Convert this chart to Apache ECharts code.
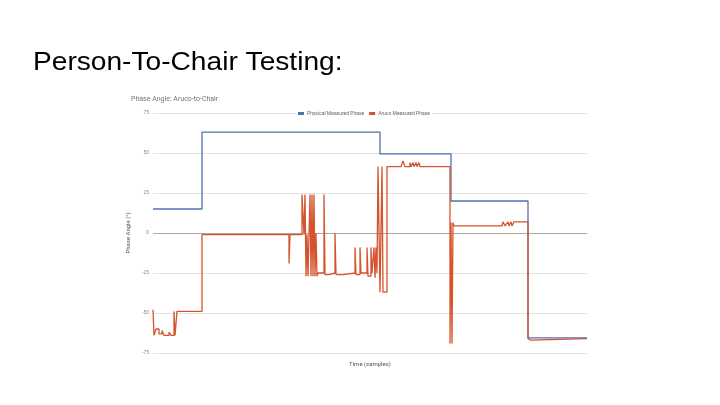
<!DOCTYPE html>
<html>
<head>
<meta charset="utf-8">
<script src="https://cdn.jsdelivr.net/npm/echarts@6/dist/echarts.min.js"></script>
<style>
html,body{margin:0;padding:0;background:#fff;}
#c{width:720px;height:405px;}
</style>
</head>
<body>
<div id="c"></div>
<script>
var yTicks = [-75, -50, -25, 0, 25, 50, 75];
var seriesNames = ['Physical Measured Phase', 'Aruco Measured Phase'];

var blueX = [0, 49, 49, 227, 227, 298, 298, 375, 375, 434];
var blueY = [15, 15, 63, 63, 49.4, 49.4, 20, 20, -65.5, -65.5];

var redX = [0,1,1,3,3,6,6,9,9,11,11,16,16,18,18,21,21,22,22,24,24,49,49,136,136,137,137,149,149,151,151,152,152,153,153,154,154,155,155,157,157,158,158,159,159,160,160,161,161,162,162,163,163,164,164,165,165,171,171,172,172,176,176,182,182,183,183,190,190,202,202,203,203,207,207,208,208,214,214,215,215,218,218,219,219,221,221,222,222,223,223,224,224,225,225,227,227,229,229,230,230,234,234,248,250,252,257,257,258,260,261,263,264,266,267,297,297,298,298,299,299,300,300,301,349,350,352,355,356,358,359,361,364,375,375,377,378,380,434];
var redY = [-48,-48,-64,-64,-60,-60,-63,-63,-61,-61,-64,-64,-62,-62,-64,-64,-49,-49,-64,-64,-49,-49,-1,-1,-19,-19,-1,-1,24,24,-1,-1,24,24,-27,-27,-1,-1,-27,-27,24,24,-27,-27,24,24,-27,-27,24,24,-27,-27,0,0,-27,-27,-25,-25,24,24,-26,-26,-25,-25,0,0,-26,-26,-25,-25,-9,-9,-26,-26,-9,-9,-25,-25,-9,-9,-27,-27,-9,-9,-25,-25,-9,-9,-28,-28,-9,-9,-25,-25,41.5,41.5,-37,-37,41.5,41.5,-37,-37,41.5,41.5,45,41.5,41.5,44,41.5,44,41.5,44,41.5,44,41.5,41.5,-69,-69,6.5,6.5,-69,-69,6.5,4.4,4.4,7,4.4,7,4.4,7,4.4,7,7,7,-66,-66,-67,-66,-66];

function zip(xs, ys){ var out=[]; for(var i=0;i<xs.length;i++){ out.push([xs[i], ys[i]]); } return out; }

var chart = echarts.init(document.getElementById('c'));
var gridColors = yTicks.map(function(v){ return v === 0 ? '#a8a8a8' : '#e2e2e2'; });
chart.setOption({
  backgroundColor: '#fff',
  animation: false,
  title: [
    { text: 'Phase Angle: Aruco-to-Chair', left: 126, top: 91,
      textStyle: { fontFamily: 'Roboto, Arial', fontSize: 7, fontWeight: 'normal', color: '#757575' } }
  ],
  graphic: [
    { type: 'text', x: 33, y: 51, scaleX: 1.125, scaleY: 1,
      style: { text: 'Person-To-Chair Testing:', font: '25px "Liberation Sans", Arial', fill: '#000',
               textAlign: 'left', textVerticalAlign: 'top' } }
  ],
  legend: {
    data: seriesNames,
    left: 296, top: 110,
    icon: 'rect', itemWidth: 6, itemHeight: 3, itemGap: 5,
    backgroundColor: '#fff', padding: [1, 2],
    textStyle: { fontFamily: 'Roboto, Arial', fontSize: 5, color: '#666', padding: [0,0,0,-2] }
  },
  grid: { left: 153, right: 133, top: 113, bottom: 52 },
  xAxis: {
    type: 'value', min: 0, max: 434,
    name: 'Time (samples)', nameLocation: 'middle', nameGap: 8,
    nameTextStyle: { fontFamily: 'Roboto, Arial', fontSize: 6, color: '#555' },
    axisLine: { show: false }, axisTick: { show: false }, axisLabel: { show: false }, splitLine: { show: false }
  },
  yAxis: {
    type: 'value', min: -75, max: 75, interval: 25,
    name: 'Phase Angle (°)', nameLocation: 'middle', nameGap: 7,
    nameTextStyle: { fontFamily: 'Roboto, Arial', fontSize: 6, color: '#555' },
    axisLine: { show: false }, axisTick: { show: false },
    axisLabel: { fontFamily: 'Roboto, Arial', fontSize: 5, color: '#888', margin: 4 },
    splitLine: { lineStyle: { color: gridColors, width: 1 } }
  },
  series: [
    { name: seriesNames[0], type: 'line', data: zip(blueX, blueY), showSymbol: false,
      itemStyle: { color: '#4f72b3' }, lineStyle: { color: '#4f72b3', width: 1.3 } },
    { name: seriesNames[1], type: 'line', data: zip(redX, redY), showSymbol: false,
      itemStyle: { color: '#d5532d' }, lineStyle: { color: '#d5532d', width: 1.3 } }
  ]
});
</script>
</body>
</html>
